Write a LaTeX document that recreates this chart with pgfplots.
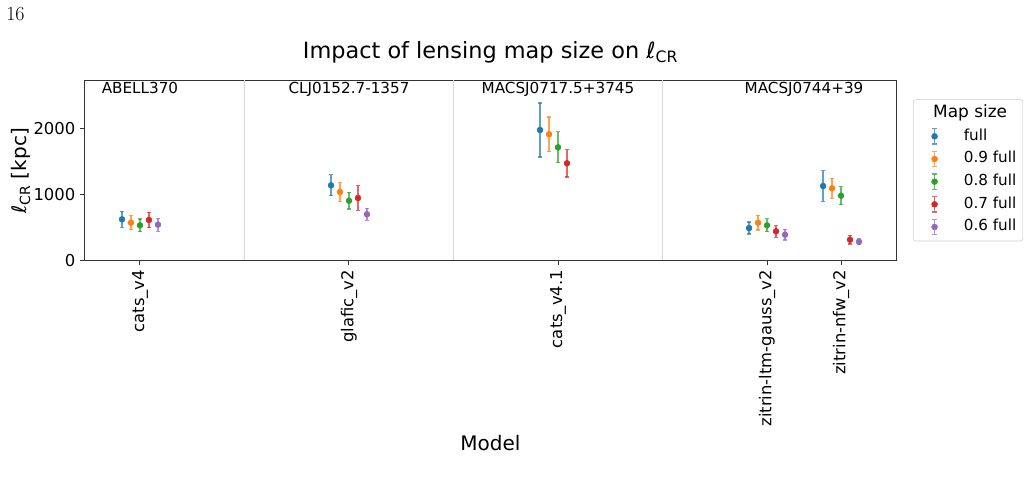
\documentclass[border=0pt]{standalone}
\usepackage{fontspec}
\setsansfont{DejaVu Sans}
\usepackage{pgfplots}
\pgfplotsset{compat=1.18}
\usepackage{pgfplotstable}
\definecolor{c0}{HTML}{1F77B4}
\definecolor{c1}{HTML}{FF7F0E}
\definecolor{c2}{HTML}{2CA02C}
\definecolor{c3}{HTML}{D62728}
\definecolor{c4}{HTML}{9467BD}

\pgfplotstableread{
x y e
-0.086 621 121
0.914 1136 159
1.914 1974 409
2.914 489 91
3.268 1126 233
}\tfull
\pgfplotstableread{
x y e
-0.043 570 106
0.957 1035 141
1.957 1909 263
2.957 570 111
3.311 1091 152
}\tnine
\pgfplotstableread{
x y e
0.000 530 96
1.000 903 126
2.000 1712 235
3.000 530 99
3.354 979 134
}\teight
\pgfplotstableread{
x y e
0.043 611 118
1.043 944 185
2.043 1470 208
3.043 439 88
3.397 312 64
}\tseven
\pgfplotstableread{
x y e
0.086 540 98
1.086 697 91
3.086 388 79
3.440 282 46
}\tsix

\pgfplotsset{
  errleg/.style={legend image code/.code={
    \path (-10.75pt,0pt) (21.75pt,0pt);
    \draw[#1, draw opacity=0.7, line width=0.9pt] (0pt,-5.75pt)--(0pt,5.75pt) (-1.75pt,-5.75pt)--(1.75pt,-5.75pt) (-1.75pt,5.75pt)--(1.75pt,5.75pt);
    \fill[#1] (0pt,0pt) circle (2.2pt);
  }},
  eb/.style={only marks, mark=*, mark size=2.2pt, mark options={solid, draw=#1, fill=#1}, errleg=#1,
    error bars/.cd, y dir=both, y explicit,
    error bar style={line width=0.9pt, draw opacity=0.7},
    error mark options={rotate=90, mark size=1.75pt, line width=0.9pt, draw opacity=0.7}},
}

\begin{document}
\begin{tikzpicture}[font=\sffamily]
\useasboundingbox (0,0) rectangle (771.75pt,-360pt);
\node[anchor=base west, font=\rmfamily\fontsize{15}{17}\selectfont, inner sep=0pt] at (6*0.75pt,-20.7*0.75pt) {16};
\begin{axis}[
  at={(85*0.75pt,-260.3*0.75pt)}, anchor=south west,
  scale only axis, width=608.25pt, height=135pt,
  xmin=-0.263, xmax=3.617, ymin=0, ymax=2727,
  axis line style={black!80, line width=0.75pt},
  tick style={black!80, line width=0.75pt},
  tick align=outside, major tick length=3.75pt, tick pos=left,
  xtick={0,1,2,3,3.354},
  xticklabels={cats\_v4, glafic\_v2, cats\_v4.1, zitrin-ltm-gauss\_v2, zitrin-nfw\_v2},
  xticklabel style={rotate=90, anchor=east, font=\sffamily\fontsize{12.3}{14}\selectfont},
  ytick={0,1000,2000}, yticklabels={0,1000,2000},
  yticklabel style={font=\sffamily\fontsize{12.3}{14}\selectfont},
  extra x ticks={0.5,1.5,2.5}, extra x tick labels={},
  extra x tick style={grid=major, major grid style={black!15, line width=0.75pt}, major tick length=0pt},
  title={Impact of lensing map size on \textit{ℓ}\textsubscript{CR}},
  title style={at={(axis description cs:0.5,1.0756)}, anchor=base, font=\sffamily\fontsize{16.8}{20}\selectfont},
  xlabel={Model},
  xlabel style={at={(axis description cs:0.5,-1.054)}, anchor=base, font=\sffamily\fontsize{15}{18}\selectfont},
  ylabel={\textit{ℓ}\textsubscript{CR} [kpc]},
  ylabel style={at={(axis description cs:-0.079,0.496)}, anchor=center, font=\sffamily\fontsize{15}{18}\selectfont},
  legend style={at={(axis description cs:1.021,0.894)}, anchor=north west, draw=black!20, rounded corners=2pt,
    inner xsep=5pt, inner ysep=2pt, font=\sffamily\fontsize{11.4}{13}\selectfont,
    nodes={inner xsep=0pt, inner ysep=3pt, text height=8.5pt, text depth=2.5pt}, column sep=0pt},
  legend cell align=left,
]
\addlegendimage{empty legend}
\addlegendentry{\hspace*{-23pt}\fontsize{12.7}{14}\selectfont Map size}
\addplot[c0, eb=c0] table[x=x, y=y, y error=e] {\tfull};
\addlegendentry{full}
\addplot[c1, eb=c1] table[x=x, y=y, y error=e] {\tnine};
\addlegendentry{0.9 full}
\addplot[c2, eb=c2] table[x=x, y=y, y error=e] {\teight};
\addlegendentry{0.8 full}
\addplot[c3, eb=c3] table[x=x, y=y, y error=e] {\tseven};
\addlegendentry{0.7 full}
\addplot[c4, eb=c4] table[x=x, y=y, y error=e] {\tsix};
\addlegendentry{0.6 full}
\node[anchor=base, font=\sffamily\fontsize{11.4}{13}\selectfont] at (axis cs:0,2530) {ABELL370};
\node[anchor=base, font=\sffamily\fontsize{11.4}{13}\selectfont] at (axis cs:1,2530) {CLJ0152.7-1357};
\node[anchor=base, font=\sffamily\fontsize{11.4}{13}\selectfont] at (axis cs:2,2530) {MACSJ0717.5+3745};
\node[anchor=base, font=\sffamily\fontsize{11.4}{13}\selectfont] at (axis cs:3.177,2530) {MACSJ0744+39};
\end{axis}
\end{tikzpicture}
\end{document}
